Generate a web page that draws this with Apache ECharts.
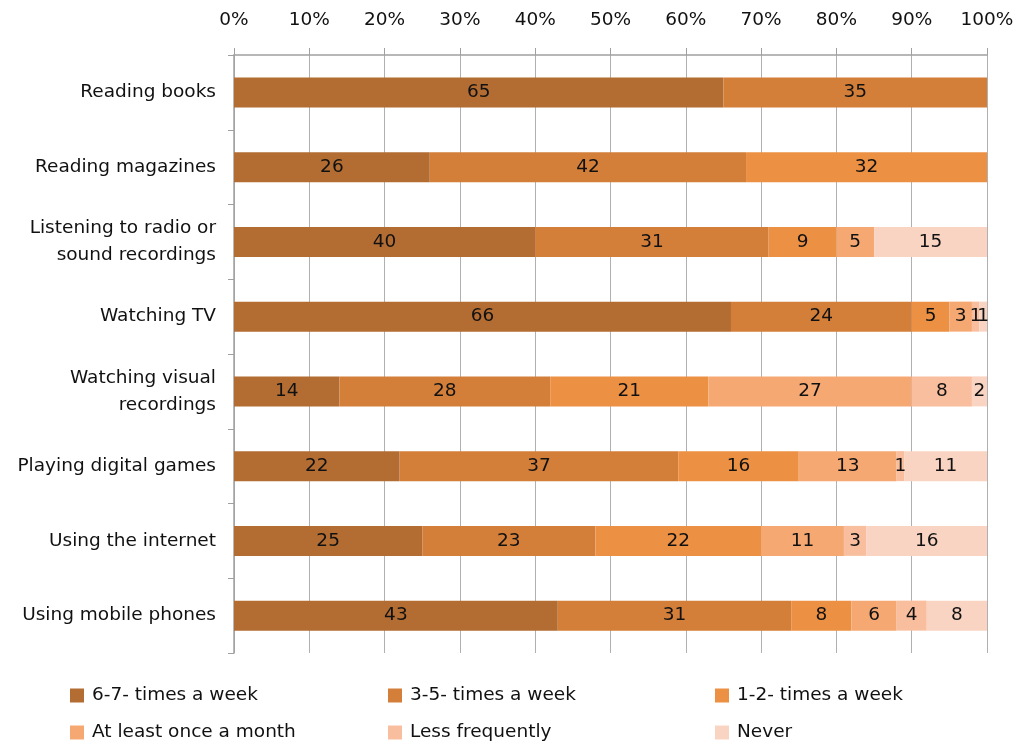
<!DOCTYPE html>
<html>
<head>
<meta charset="utf-8">
<script src="https://cdn.jsdelivr.net/npm/echarts@6/dist/echarts.min.js"></script>
<style>html,body{margin:0;padding:0;background:#fff}#c{width:1024px;height:745px}</style>
</head>
<body>
<div id="c"></div>
<script>
const categories = [
  "Reading books",
  "Reading magazines",
  "Listening to radio or\nsound recordings",
  "Watching TV",
  "Watching visual\nrecordings",
  "Playing digital games",
  "Using the internet",
  "Using mobile phones"
];
const seriesNames = ["6-7- times a week","3-5- times a week","1-2- times a week","At least once a month","Less frequently","Never"];
const s67   = [65, 26, 40, 66, 14, 22, 25, 43];
const s35   = [35, 42, 31, 24, 28, 37, 23, 31];
const s12   = [0, 32, 9, 5, 21, 16, 22, 8];
const sMonth= [0, 0, 5, 3, 27, 13, 11, 6];
const sLess = [0, 0, 0, 1, 8, 1, 3, 4];
const sNever= [0, 0, 15, 1, 2, 11, 16, 8];
const tickLabels = ["0%","10%","20%","30%","40%","50%","60%","70%","80%","90%","100%"];

const colors = ["#B36D33","#D37F3A","#EC9043","#F6A872","#F8BE9E","#FAD4C2"];
const allData = [s67, s35, s12, sMonth, sLess, sNever];
const font = "DejaVu Sans";
const fs = 18.5;

const legendLeft = [65, 383, 710];
const legendTop = [681, 718];

const chart = echarts.init(document.getElementById('c'));
chart.setOption({
  animation: false,
  grid: {left: 234, right: 37, top: 55, bottom: 92, containLabel: false},
  xAxis: {
    type: 'value', position: 'top', min: 0, max: 100, interval: 10,
    axisLine: {show: true, lineStyle: {color: '#a0a0a0', width: 1.5}},
    axisTick: {show: true, inside: false, length: 7, lineStyle: {color: '#a0a0a0'}},
    splitLine: {show: true, lineStyle: {color: '#b0b0b0', width: 1}},
    axisLabel: {margin: 25, color: '#111', fontFamily: font, fontSize: fs,
      formatter: v => tickLabels[Math.round(v/10)]}
  },
  yAxis: {
    type: 'category', inverse: true, data: categories,
    axisLine: {show: true, lineStyle: {color: '#a0a0a0', width: 1.5}},
    axisTick: {show: true, length: 6, lineStyle: {color: '#a0a0a0'}},
    axisLabel: {margin: 18, color: '#111', fontFamily: font, fontSize: fs, lineHeight: 27, align: 'right'}
  },
  legend: seriesNames.map((name, i) => ({
    left: legendLeft[i % 3],
    top: legendTop[Math.floor(i / 3)],
    itemWidth: 14, itemHeight: 14,
    icon: 'rect',
    data: [name],
    textStyle: {color: '#111', fontFamily: font, fontSize: fs, padding: [0,0,0,3]}
  })),
  series: seriesNames.map((name, i) => ({
    name: name, type: 'bar', stack: 'total', barWidth: 30,
    itemStyle: {color: colors[i]},
    label: {show: true, position: 'inside', color: '#111', fontFamily: font, fontSize: fs,
      formatter: p => p.value === 0 ? '' : String(p.value)},
    data: allData[i]
  }))
});
</script>
</body>
</html>
